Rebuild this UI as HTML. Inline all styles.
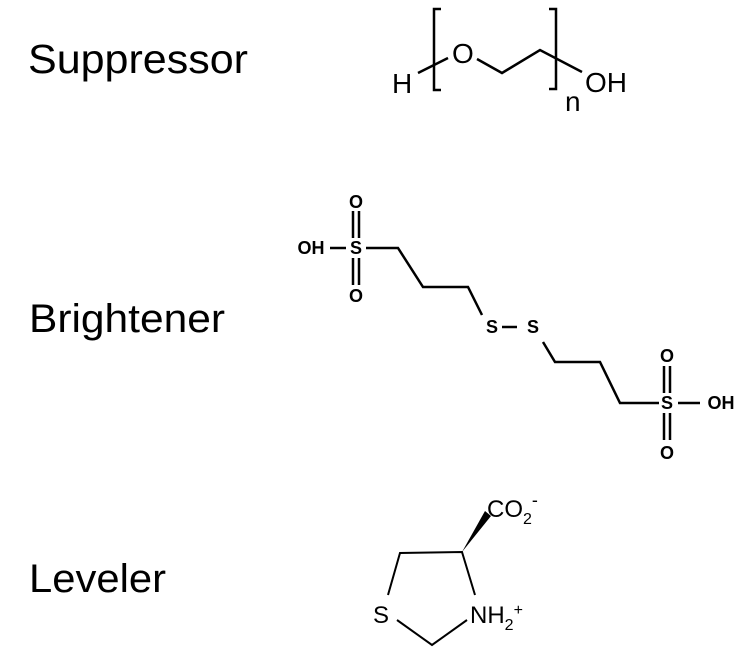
<!DOCTYPE html>
<html><head><meta charset="utf-8"><style>html,body{margin:0;padding:0;background:#fff}svg{display:block}</style></head>
<body>
<svg width="750" height="653" viewBox="0 0 750 653" xmlns="http://www.w3.org/2000/svg">
<g font-family="Liberation Sans, Arial, sans-serif" fill="#000">
<text x="28" y="73" font-size="41" textLength="220" lengthAdjust="spacingAndGlyphs">Suppressor</text>
<text x="29" y="332" font-size="40" textLength="196" lengthAdjust="spacingAndGlyphs">Brightener</text>
<text x="29" y="592" font-size="40" textLength="137" lengthAdjust="spacingAndGlyphs">Leveler</text>
</g>
<!-- Suppressor -->
<g stroke="#000" stroke-width="2.5" fill="none" stroke-linecap="butt">
<polyline points="441,9 434,9 434,90 441,90"/>
<polyline points="549,9 556,9 556,89 549,89"/>
<line x1="418" y1="73" x2="448" y2="58"/>
<polyline points="477,59 502,73 540,50 582,72"/>
</g>
<g font-family="Liberation Sans, Arial, sans-serif" font-size="28" fill="#000">
<text x="392" y="93">H</text>
<text x="452" y="63">O</text>
<text x="585" y="92">OH</text>
<text x="565" y="111">n</text>
</g>
<!-- Brightener -->
<g stroke="#000" stroke-width="2.5" fill="none">
<line x1="330" y1="248" x2="346" y2="248"/>
<line x1="353" y1="211" x2="353" y2="238"/><line x1="359" y1="211" x2="359" y2="238"/>
<line x1="353" y1="258" x2="353" y2="285"/><line x1="359" y1="258" x2="359" y2="285"/>
<polyline points="366,248 398,248 423,287 468,287 482,315"/>
<line x1="502" y1="327" x2="517" y2="327"/>
<polyline points="543,342 555,362 600,362 620,403 659,403"/>
<line x1="664" y1="366" x2="664" y2="393"/><line x1="670" y1="366" x2="670" y2="393"/>
<line x1="664" y1="413" x2="664" y2="440"/><line x1="670" y1="413" x2="670" y2="440"/>
<line x1="678" y1="403" x2="700" y2="403"/>
</g>
<g font-family="Liberation Sans, Arial, sans-serif" font-size="18" font-weight="bold" fill="#000" text-anchor="middle">
<text x="311" y="254">OH</text>
<text x="356" y="254">S</text>
<text x="356" y="208">O</text>
<text x="356" y="302">O</text>
<text x="492" y="333">S</text>
<text x="533" y="333">S</text>
<text x="667" y="409">S</text>
<text x="667" y="362">O</text>
<text x="667" y="459">O</text>
<text x="721" y="409">OH</text>
</g>
<!-- Leveler -->
<g stroke="#000" stroke-width="2" fill="none">
<polyline points="388,595 400,553 462,552 475,595"/>
<polyline points="397,620 432,645 467,620"/>
</g>
<polygon points="462,552 485,511 491,516" fill="#000"/>
<g font-family="Liberation Sans, Arial, sans-serif" fill="#000">
<text x="487" y="517" font-size="24">CO<tspan font-size="16" dy="7">2</tspan><tspan font-size="18" dy="-18">-</tspan></text>
<text x="373" y="623" font-size="24">S</text>
<text x="470" y="623" font-size="24">NH<tspan font-size="16" dy="7">2</tspan><tspan font-size="16" dy="-15">+</tspan></text>
</g>
</svg>
</body></html>
